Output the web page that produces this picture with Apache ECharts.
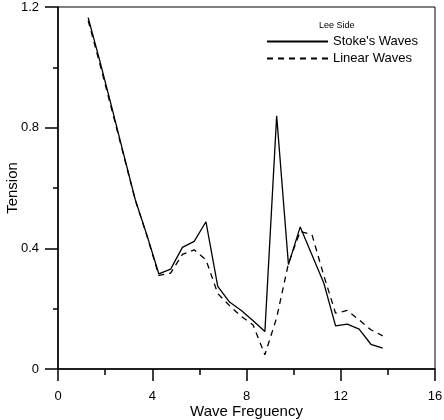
<!DOCTYPE html>
<html>
<head>
<meta charset="utf-8">
<script src="https://cdn.jsdelivr.net/npm/echarts@6/dist/echarts.min.js"></script>
<style>
html, body { margin: 0; padding: 0; background: #fff; }
#graph { width: 444px; height: 420px; }
</style>
</head>
<body>
<div id="graph"></div>
<script>
// wave frequencies (x)
var freq = [1.28, 1.78, 2.28, 2.78, 3.28, 3.78, 4.28, 4.78, 5.28, 5.78, 6.28, 6.78, 7.28,
    7.78, 8.28, 8.78, 9.28, 9.78, 10.28, 10.78, 11.28, 11.78, 12.28, 12.78, 13.28, 13.78];
// tension, Stoke's waves
var stokes = [1.165, 1.02, 0.868, 0.714, 0.561, 0.442, 0.315, 0.331, 0.403, 0.423, 0.488, 0.274, 0.222,
    0.194, 0.16, 0.124, 0.839, 0.346, 0.471, 0.378, 0.285, 0.143, 0.149, 0.132, 0.082, 0.069];
// tension, linear waves
var linear = [1.155, 1.01, 0.86, 0.71, 0.56, 0.44, 0.31, 0.318, 0.38, 0.395, 0.362, 0.25, 0.21,
    0.174, 0.146, 0.047, 0.17, 0.35, 0.456, 0.445, 0.31, 0.185, 0.194, 0.163, 0.13, 0.11];
var xTicks = [0, 4, 8, 12, 16];
var yTicks = [0, 0.4, 0.8, 1.2];

function pairs(ys) {
    return freq.map(function (x, i) { return [x, ys[i]]; });
}

var font = 'Liberation Sans, Arial, sans-serif';
var graph = echarts.init(document.getElementById('graph'));

var option = {
    animation: false,
    title: {
        text: 'Lee Side',
        left: 319,
        top: 21,
        padding: 0,
        textStyle: { fontSize: 9, fontWeight: 'normal', color: '#000', fontFamily: font }
    },
    legend: {
        orient: 'vertical',
        left: 266,
        top: 35,
        padding: 0,
        itemWidth: 61,
        itemHeight: 14,
        itemGap: 4,
        itemStyle: { opacity: 0 },
        textStyle: { fontSize: 13, color: '#000', fontFamily: font, padding: [0, 0, 0, 0] },
        data: ["Stoke's Waves", 'Linear Waves']
    },
    grid: {
        left: 58,
        right: 9,
        top: 7,
        bottom: 51,
        outerBoundsMode: 'none',
        containLabel: false,
        show: true,
        borderColor: '#000',
        borderWidth: 1
    },
    xAxis: {
        type: 'value',
        min: xTicks[0],
        max: xTicks[xTicks.length - 1],
        interval: 4,
        name: 'Wave Freguency',
        nameLocation: 'middle',
        nameGap: 35,
        nameMoveOverlap: false,
        nameTextStyle: { fontSize: 15, color: '#000', fontFamily: font },
        axisLine: { lineStyle: { color: '#000', width: 1.5 } },
        axisTick: { length: 12, lineStyle: { color: '#000', width: 1.5 } },
        minorTick: { show: true, splitNumber: 2, length: 6, lineStyle: { color: '#000', width: 1.5 } },
        splitLine: { show: false },
        axisLabel: { margin: 21, fontSize: 13, color: '#000', fontFamily: font }
    },
    yAxis: {
        type: 'value',
        min: yTicks[0],
        max: yTicks[yTicks.length - 1],
        interval: 0.4,
        name: 'Tension',
        nameLocation: 'middle',
        nameGap: 38,
        nameMoveOverlap: false,
        nameTextStyle: { fontSize: 15, color: '#000', fontFamily: font },
        axisLine: { lineStyle: { color: '#000', width: 1.5 } },
        axisTick: { length: 13, lineStyle: { color: '#000', width: 1.5 } },
        minorTick: { show: true, splitNumber: 2, length: 5, lineStyle: { color: '#000', width: 1.5 } },
        splitLine: { show: false },
        axisLabel: { margin: 19, fontSize: 13, color: '#000', fontFamily: font }
    },
    series: [{
        name: "Stoke's Waves",
        type: 'line',
        symbol: 'none',
        data: pairs(stokes),
        lineStyle: { color: '#000', width: 1.3 },
        itemStyle: { color: '#000' }
    }, {
        name: 'Linear Waves',
        type: 'line',
        symbol: 'none',
        data: pairs(linear),
        lineStyle: { color: '#000', width: 1.3, type: [6, 5] },
        itemStyle: { color: '#000' }
    }]
};
graph.setOption(option);
</script>
</body>
</html>
